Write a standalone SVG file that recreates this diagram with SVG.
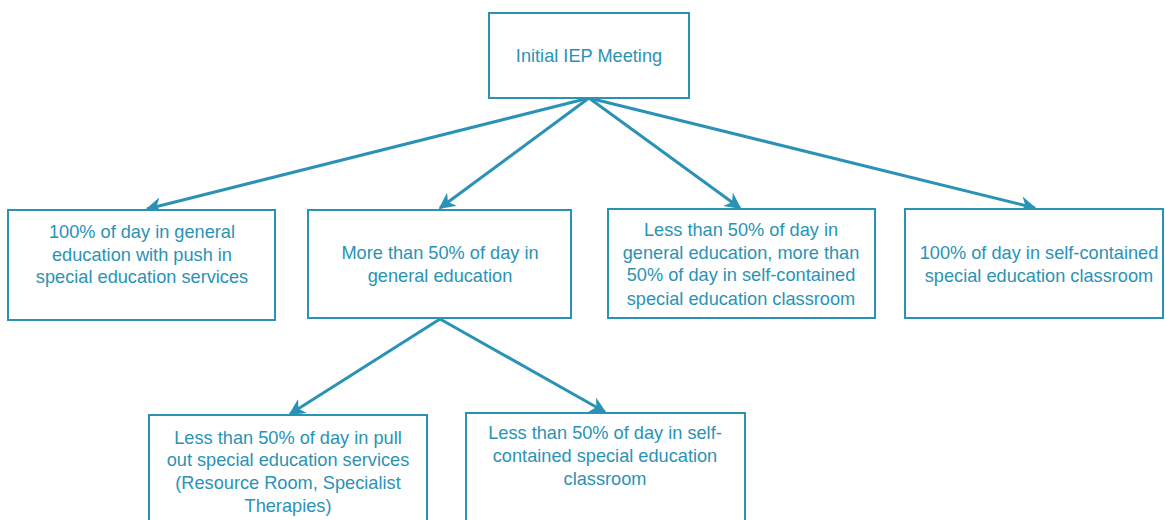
<svg xmlns="http://www.w3.org/2000/svg" width="1165" height="520" viewBox="0 0 1165 520">
<style>
.box{fill:#fff;stroke:#2a93b5;stroke-width:2}
.t{font-family:"Liberation Sans",Arial,sans-serif;font-size:18.2px;fill:#2a93b5;text-anchor:middle}
.c{stroke:#2a93b5;stroke-width:3;fill:none;marker-end:url(#ah)}
</style>
<defs>
<marker id="ah" viewBox="0 0 10 10" refX="9" refY="5" markerWidth="5.5" markerHeight="5.5" orient="auto" markerUnits="strokeWidth">
<path d="M0,0 L10,5 L0,10 L3,5 z" fill="#2a93b5"/>
</marker>
</defs>
<rect width="1165" height="520" fill="#fff"/>
<g id="connectors">
<line class="c" x1="589" y1="98" x2="147" y2="209"/>
<line class="c" x1="589" y1="98" x2="440" y2="208"/>
<line class="c" x1="589" y1="98" x2="740" y2="208"/>
<line class="c" x1="589" y1="98" x2="1035" y2="208"/>
<line class="c" x1="440" y1="319" x2="290" y2="414"/>
<line class="c" x1="440" y1="319" x2="605" y2="412"/>
</g>
<g id="n0"><rect class="box" x="489" y="13" width="200" height="85"/><text class="t" x="589" y="62">Initial IEP Meeting</text></g>
<g id="n1"><rect class="box" x="8" y="210" width="267" height="110"/><text class="t" x="142" y="238">100% of day in general</text><text class="t" x="142" y="261">education with push in</text><text class="t" x="142" y="283">special education services</text></g>
<g id="n2"><rect class="box" x="308" y="210" width="263" height="108"/><text class="t" x="440" y="259">More than 50% of day in</text><text class="t" x="440" y="282">general education</text></g>
<g id="n3"><rect class="box" x="608" y="209" width="267" height="109"/><text class="t" x="741" y="236">Less than 50% of day in</text><text class="t" x="741" y="259">general education, more than</text><text class="t" x="741" y="281">50% of day in self-contained</text><text class="t" x="741" y="305">special education classroom</text></g>
<g id="n4"><rect class="box" x="905" y="209" width="258" height="109"/><text class="t" x="1039" y="259">100% of day in self-contained</text><text class="t" x="1039" y="282">special education classroom</text></g>
<g id="n5"><rect class="box" x="149" y="415" width="278" height="115"/><text class="t" x="288" y="444">Less than 50% of day in pull</text><text class="t" x="288" y="466">out special education services</text><text class="t" x="288" y="489">(Resource Room, Specialist</text><text class="t" x="288" y="512">Therapies)</text></g>
<g id="n6"><rect class="box" x="466" y="413" width="279" height="117"/><text class="t" x="605" y="439">Less than 50% of day in self-</text><text class="t" x="605" y="462">contained special education</text><text class="t" x="605" y="485">classroom</text></g>
</svg>
